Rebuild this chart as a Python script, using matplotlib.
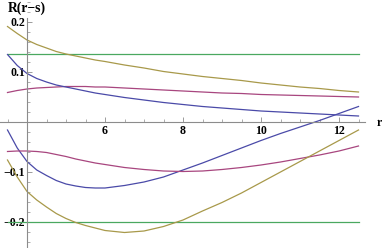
import numpy as np
import matplotlib.pyplot as plt
from matplotlib.ticker import FixedLocator, MultipleLocator

# values
r = [3.5, 3.75, 4.0, 4.25, 4.5, 4.75, 5.0, 5.25, 5.5, 5.75, 6.0, 6.5, 7.0, 7.5, 8.0,
     8.5, 9.0, 9.5, 10.0, 10.5, 11.0, 11.5, 12.0, 12.5]

gold_top = [0.191, 0.177, 0.164, 0.155, 0.148, 0.141, 0.136, 0.132, 0.128, 0.124, 0.121,
            0.114, 0.108, 0.101, 0.096, 0.091, 0.087, 0.083, 0.078, 0.074, 0.070, 0.067,
            0.063, 0.060]
magenta_top = [0.059, 0.063, 0.066, 0.068, 0.069, 0.070, 0.071, 0.071, 0.071, 0.070, 0.070,
               0.068, 0.066, 0.064, 0.062, 0.060, 0.058, 0.057, 0.055, 0.054, 0.053, 0.052,
               0.051, 0.050]
blue_top = [0.135, 0.113, 0.097, 0.087, 0.080, 0.074, 0.070, 0.066, 0.062, 0.058, 0.055,
            0.049, 0.044, 0.039, 0.035, 0.031, 0.028, 0.025, 0.022, 0.020, 0.018, 0.016,
            0.014, 0.012]
blue_bot = [-0.016, -0.052, -0.079, -0.096, -0.107, -0.117, -0.124, -0.128, -0.131, -0.132,
            -0.132, -0.127, -0.120, -0.110, -0.096, -0.082, -0.067, -0.052, -0.037, -0.023,
            -0.010, 0.003, 0.017, 0.031]
magenta_bot = [-0.059, -0.058, -0.058, -0.059, -0.061, -0.065, -0.069, -0.074, -0.078, -0.082,
               -0.085, -0.091, -0.095, -0.098, -0.099, -0.098, -0.095, -0.091, -0.086, -0.080,
               -0.073, -0.066, -0.058, -0.048]
gold_bot = [-0.076, -0.110, -0.139, -0.156, -0.170, -0.183, -0.193, -0.201, -0.207, -0.212,
            -0.217, -0.221, -0.218, -0.209, -0.196, -0.178, -0.161, -0.142, -0.121, -0.100,
            -0.079, -0.058, -0.037, -0.016]
green_levels = [0.137, -0.2]

x_labels = ["6", "8", "10", "12"]
y_labels = ["\u22120.2", "\u22120.1", "0.1", "0.2"]

BLUE = "#4a4aa8"
MAGENTA = "#a8467f"
GOLD = "#a8994a"
GREEN = "#4aa860"
AXIS = "#8c8c8c"

fig = plt.figure(figsize=(3.82, 2.48), dpi=100)
ax = fig.add_axes([0, 0, 1, 1])

lw = 0.9
for lev in green_levels:
    ax.plot([r[0], r[-1]], [lev, lev], color=GREEN, lw=lw)
ax.plot(r, gold_top, color=GOLD, lw=lw)
ax.plot(r, magenta_top, color=MAGENTA, lw=lw)
ax.plot(r, blue_top, color=BLUE, lw=lw)
ax.plot(r, blue_bot, color=BLUE, lw=lw)
ax.plot(r, magenta_bot, color=MAGENTA, lw=lw)
ax.plot(r, gold_bot, color=GOLD, lw=lw)

# pixel mapping: x px = 27 + (r-4)*39, y px = 122 - 500*v
ax.set_xlim(4 - 27 / 39, 4 + 355 / 39)
ax.set_ylim(-126 / 500, 122 / 500)

for s in ["top", "right"]:
    ax.spines[s].set_visible(False)
ax.spines["bottom"].set_position(("data", 0))
ax.spines["left"].set_position(("data", 4))
ax.spines["bottom"].set_bounds(4 - 27 / 39, 4 + 338 / 39)
ax.spines["left"].set_bounds(-126 / 500, 0.208)
for s in ["bottom", "left"]:
    ax.spines[s].set_color(AXIS)
    ax.spines[s].set_linewidth(0.8)

ax.xaxis.set_major_locator(FixedLocator([6, 8, 10, 12]))
ax.xaxis.set_minor_locator(MultipleLocator(0.5))
ax.yaxis.set_major_locator(FixedLocator([-0.2, -0.1, 0.1, 0.2]))
ax.yaxis.set_minor_locator(MultipleLocator(0.02))
ax.set_xticklabels(x_labels)
ax.set_yticklabels(y_labels)

for lab in ax.get_xticklabels() + ax.get_yticklabels():
    lab.set_fontfamily("Liberation Serif")
    lab.set_fontweight("bold")
    lab.set_fontsize(8.6)

ax.tick_params(axis="both", which="major", direction="in", length=3.5, width=0.6, color=AXIS)
ax.tick_params(axis="both", which="minor", direction="in", length=2, width=0.5, color=AXIS)
ax.tick_params(axis="x", which="major", pad=2.5)
ax.tick_params(axis="y", which="major", pad=1.5)

ax.text(8 / 382, 1 - 8 / 248, "R(r\u2212s)", transform=ax.transAxes,
        ha="left", va="center", family="Liberation Serif", weight="bold", size=9.8)
ax.text(379 / 382, 1 - 123 / 248, "r", transform=ax.transAxes,
        ha="center", va="center", family="Liberation Serif", weight="bold", size=8.6)

fig.savefig("out.png", dpi=100)
